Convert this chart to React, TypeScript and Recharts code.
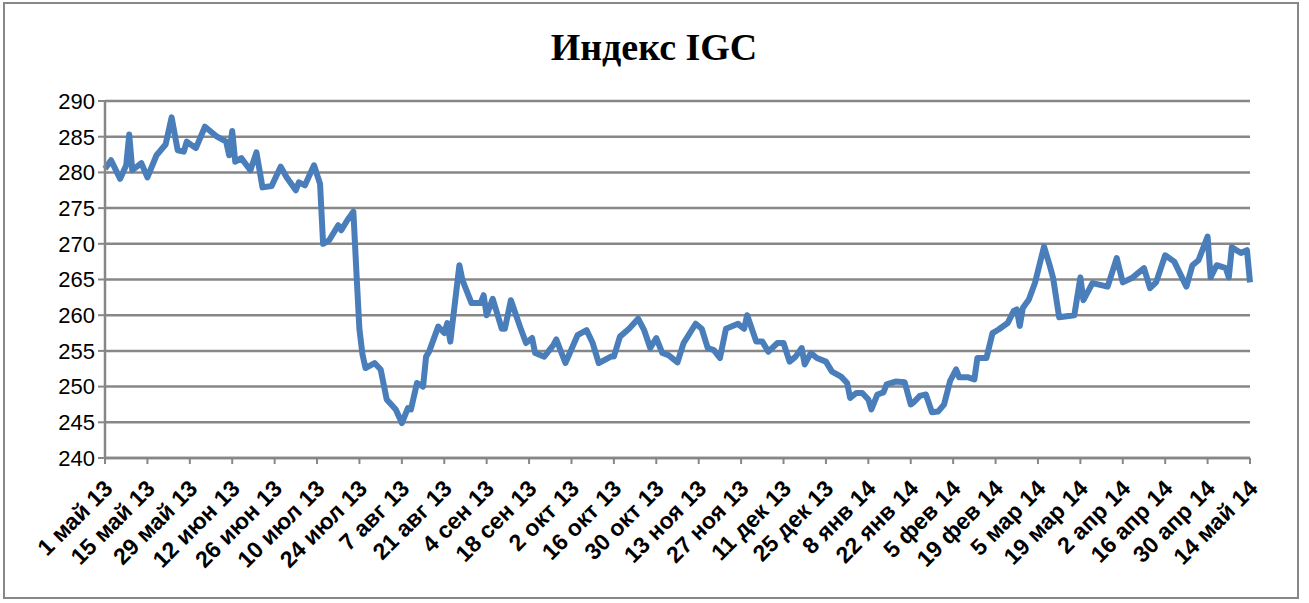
import React from 'react';
import { LineChart, Line, XAxis, YAxis, CartesianGrid } from 'recharts';

const tickLabels = [
  '1 май 13', '15 май 13', '29 май 13', '12 июн 13', '26 июн 13', '10 июл 13', '24 июл 13',
  '7 авг 13', '21 авг 13', '4 сен 13', '18 сен 13', '2 окт 13', '16 окт 13', '30 окт 13',
  '13 ноя 13', '27 ноя 13', '11 дек 13', '25 дек 13', '8 янв 14', '22 янв 14', '5 фев 14',
  '19 фев 14', '5 мар 14', '19 мар 14', '2 апр 14', '16 апр 14', '30 апр 14', '14 май 14',
];

const yTicks = [240, 245, 250, 255, 260, 265, 270, 275, 280, 285, 290];

// days since 1 May 2013
const dayOffsets = [
  0, 2, 5, 7, 8, 9, 12, 14, 17, 20, 22, 24, 26, 27, 30, 33, 37, 40, 41, 42, 43, 45, 48, 50,
  52, 55, 58, 60, 63, 64, 66, 69, 71, 72, 74, 77, 78, 80, 82, 83, 84, 85, 86, 89, 91, 93, 96,
  98, 100, 101, 103, 105, 106, 107, 110, 112, 113, 114, 117, 118, 121, 124, 125, 126, 128, 131,
  132, 134, 137, 139, 141, 142, 145, 148, 149, 152, 156, 159, 161, 163, 167, 168, 170, 173, 176,
  178, 180, 182, 184, 186, 189, 191, 195, 197, 199, 201, 203, 205, 209, 210, 211, 212, 215, 217,
  219, 222, 224, 226, 228, 230, 231, 233, 235, 238, 240, 243, 245, 246, 248, 250, 252, 253, 255,
  257, 258, 261, 264, 266, 267, 269, 271, 273, 275, 277, 279, 281, 282, 285, 287, 288, 291, 293,
  295, 298, 300, 301, 302, 303, 305, 307, 310, 312, 313, 315, 320, 322, 323, 326, 331, 334, 336,
  339, 343, 345, 347, 350, 353, 357, 359, 361, 364, 365, 367, 370, 371, 372, 375, 377, 378,
];

const indexValues = [
  280.5, 281.7, 279.1, 281, 285.3, 280.3, 281.3, 279.3, 282.4, 283.9, 287.7, 283.1, 282.9, 284.3,
  283.4, 286.4, 285, 284.3, 282.4, 285.8, 281.5, 282, 280.3, 282.8, 277.9, 278.1, 280.8, 279.3,
  277.5, 278.6, 278.2, 281, 278.4, 270, 270.5, 272.6, 271.9, 273.3, 274.5, 266, 258, 254.5,
  252.6, 253.3, 252.4, 248.2, 246.8, 244.9, 247, 246.8, 250.5, 250, 254.2, 254.9, 258.4, 257.5,
  258.9, 256.3, 267, 264.9, 261.7, 261.7, 262.8, 260, 262.3, 258.1, 258.1, 262.1, 258.4, 256.1,
  256.8, 254.7, 254.2, 255.8, 256.6, 253.3, 257.2, 257.9, 256.1, 253.3, 254.2, 254.2, 257, 258.1,
  259.5, 257.9, 255.4, 256.8, 254.7, 254.4, 253.4, 256.1, 258.8, 258.1, 255.4, 255.1, 254, 258.1,
  258.8, 258.4, 258.1, 260, 256.3, 256.3, 254.9, 256.1, 256.1, 253.5, 254.2, 255.4, 253.1, 254.7,
  254, 253.5, 252.1, 251.4, 250.5, 248.4, 249.1, 249.1, 248.2, 246.8, 248.9, 249.2, 250.3, 250.7,
  250.6, 247.5, 247.8, 248.7, 248.9, 246.4, 246.5, 247.5, 250.8, 252.4, 251.3, 251.3, 251, 254,
  254, 257.5, 258, 258.9, 260.6, 260.8, 258.5, 261, 262.2, 264.5, 269.6, 266.8, 265.2, 259.7, 260,
  265.3, 262.1, 264.5, 264, 268, 264.6, 265.2, 266.6, 263.8, 264.6, 268.4, 267.5, 264, 267, 267.7,
  271, 265.3, 267, 266.6, 265.3, 269.5, 268.7, 269.1, 264.6,
];

const chartData = dayOffsets.map((d, i) => ({ day: d, value: indexValues[i] }));
const tickDays = tickLabels.map((_, i) => i * 14);

const gridColor = '#878787';

const XTick = ({ x, y, payload }: any) => {
  const label = tickLabels[Math.round(payload.value / 14)];
  const ax = x + 9;
  const ay = y + 24;
  return (
    <text
      x={ax}
      y={ay}
      textAnchor="end"
      transform={`rotate(-45, ${ax}, ${ay})`}
      fill="#000"
      fontWeight="bold"
      fontSize={23}
      fontFamily="'Liberation Sans', Arial, sans-serif"
    >
      {label}
    </text>
  );
};

export default function App() {
  return (
    <div style={{ position: 'absolute', left: 0, top: 0, width: 1309, height: 603, background: '#fff' }}>
      <div
        style={{
          position: 'absolute',
          left: 3,
          top: 2,
          width: 1292,
          height: 593,
          border: `2px solid ${gridColor}`,
        }}
      />
      <svg style={{ position: 'absolute', left: 0, top: 0 }} width={1309} height={80}>
        <text
          x={654}
          y={60}
          textAnchor="middle"
          fontFamily="'Liberation Serif', 'Times New Roman', serif"
          fontWeight="bold"
          fontSize={38}
          fill="#000"
        >
          Индекс IGC
        </text>
      </svg>
      <div style={{ position: 'absolute', left: 0, top: 0 }}>
        <LineChart width={1309} height={603} data={chartData} margin={{ top: 101, right: 59, bottom: 0, left: 45 }}>
          <CartesianGrid vertical={false} stroke={gridColor} strokeWidth={2.5} />
          <XAxis
            dataKey="day"
            type="number"
            domain={[0, 378]}
            ticks={tickDays}
            interval={0}
            height={145}
            tick={<XTick />}
            tickSize={6}
            axisLine={{ stroke: gridColor, strokeWidth: 2.5 }}
            tickLine={{ stroke: gridColor, strokeWidth: 2 }}
          />
          <YAxis
            domain={[240, 290]}
            ticks={yTicks}
            width={60}
            tickSize={7}
            tickMargin={3}
            interval={0}
            tick={{ fill: '#000', fontSize: 22, fontFamily: "'Liberation Sans', Arial, sans-serif" }}
            axisLine={{ stroke: gridColor, strokeWidth: 2.5 }}
            tickLine={{ stroke: gridColor, strokeWidth: 2 }}
          />
          <Line
            type="linear"
            dataKey="value"
            stroke="#4A7EBB"
            strokeWidth={6}
            strokeLinejoin="round"
            dot={false}
            isAnimationActive={false}
          />
        </LineChart>
      </div>
    </div>
  );
}
